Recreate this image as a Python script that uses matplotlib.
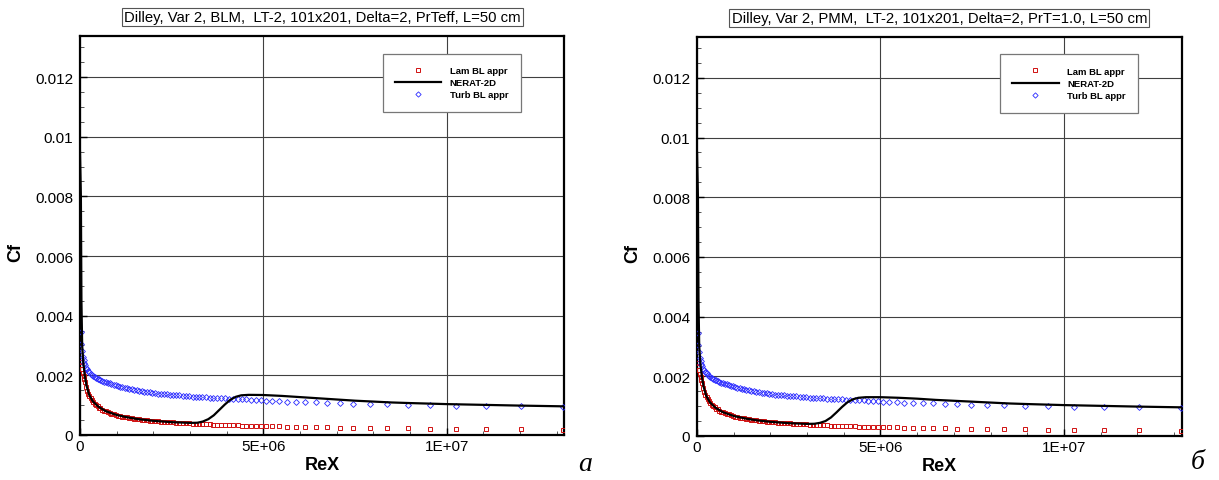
import matplotlib
matplotlib.use("Agg")
import matplotlib.pyplot as plt
from matplotlib.ticker import FixedLocator, MultipleLocator, FixedFormatter
import numpy as np

plt.rcParams['font.family'] = ['Liberation Sans', 'DejaVu Sans']

# ---------------- data (Rex in units of 1e6, Cf in units of 1e-3) ----------------
titles = ["Dilley, Var 2, BLM,  LT-2, 101x201, Delta=2, PrTeff, L=50 cm",
          "Dilley, Var 2, PMM,  LT-2, 101x201, Delta=2, PrT=1.0, L=50 cm"]
panel_letters = ["а", "б"]
series_names = ["Lam BL appr", "NERAT-2D", "Turb BL appr"]

rex_pts = [0.02, 0.04, 0.06, 0.08, 0.10, 0.12, 0.14, 0.17, 0.20, 0.23,
           0.26, 0.29, 0.32, 0.36, 0.40, 0.44, 0.48, 0.52, 0.56, 0.61,
           0.66, 0.71, 0.76, 0.81, 0.86, 0.92, 0.98, 1.04, 1.10, 1.16,
           1.22, 1.28, 1.34, 1.41, 1.48, 1.55, 1.62, 1.69, 1.76, 1.83,
           1.90, 1.97, 2.05, 2.13, 2.21, 2.29, 2.37, 2.45, 2.53, 2.62,
           2.71, 2.80, 2.89, 2.98, 3.07, 3.16, 3.25, 3.34, 3.44, 3.54,
           3.64, 3.74, 3.85, 3.96, 4.07, 4.18, 4.30, 4.42, 4.54, 4.67,
           4.80, 4.94, 5.08, 5.23, 5.44, 5.65, 5.88, 6.15, 6.43, 6.75,
           7.08, 7.46, 7.90, 8.38, 8.95, 9.56, 10.27, 11.08, 12.04, 13.18]

cf_lam = [2.45, 2.35, 2.22, 2.08, 1.98, 1.87, 1.76, 1.60, 1.48, 1.38,
          1.30, 1.23, 1.17, 1.11, 1.05, 1.00, 0.96, 0.92, 0.89, 0.85,
          0.82, 0.79, 0.76, 0.74, 0.72, 0.69, 0.67, 0.65, 0.635, 0.615,
          0.60, 0.59, 0.575, 0.56, 0.55, 0.535, 0.525, 0.515, 0.50, 0.49,
          0.485, 0.475, 0.465, 0.455, 0.45, 0.44, 0.435, 0.425, 0.42, 0.41,
          0.405, 0.40, 0.39, 0.385, 0.38, 0.375, 0.37, 0.365, 0.36, 0.355,
          0.35, 0.345, 0.34, 0.335, 0.33, 0.325, 0.32, 0.317, 0.313, 0.31,
          0.305, 0.30, 0.295, 0.29, 0.285, 0.28, 0.275, 0.27, 0.265, 0.255,
          0.25, 0.245, 0.235, 0.23, 0.22, 0.215, 0.205, 0.20, 0.19, 0.18]

cf_turb = [3.45, 3.05, 2.80, 2.62, 2.50, 2.42, 2.35, 2.26, 2.20, 2.14,
           2.10, 2.05, 2.02, 1.98, 1.95, 1.92, 1.89, 1.86, 1.84, 1.81,
           1.79, 1.77, 1.75, 1.73, 1.71, 1.68, 1.66, 1.64, 1.62, 1.60,
           1.58, 1.565, 1.55, 1.53, 1.51, 1.495, 1.48, 1.465, 1.45, 1.44,
           1.425, 1.415, 1.40, 1.39, 1.38, 1.37, 1.36, 1.35, 1.345, 1.335,
           1.325, 1.315, 1.305, 1.295, 1.285, 1.28, 1.275, 1.27, 1.265, 1.255,
           1.25, 1.245, 1.24, 1.23, 1.22, 1.21, 1.20, 1.195, 1.19, 1.18,
           1.17, 1.16, 1.15, 1.14, 1.13, 1.12, 1.11, 1.10, 1.09, 1.08,
           1.065, 1.05, 1.04, 1.025, 1.01, 1.00, 0.985, 0.97, 0.955, 0.94]

rex_line = [0.0, 0.025, 0.04, 0.06, 0.09, 0.13, 0.18, 0.25, 0.35, 0.5,
            0.7, 1.0, 1.3, 1.6, 2.0, 2.5, 3.0, 3.2, 3.35, 3.5, 3.65, 3.8, 3.95, 4.1,
            4.25, 4.4, 4.6, 5.0, 5.5, 6.0, 6.5, 7.0, 7.5, 8.0, 8.5, 9.0, 10.0, 11.0,
            12.0, 13.2]
cf_line_a = [9.5, 8.0, 4.5, 3.0, 2.45, 2.0, 1.65, 1.35, 1.13, 0.95,
             0.80, 0.67, 0.59, 0.53, 0.475, 0.43, 0.405, 0.41, 0.45, 0.53, 0.66, 0.84, 1.02, 1.18,
             1.28, 1.33, 1.345, 1.34, 1.31, 1.27, 1.23, 1.19, 1.15, 1.12, 1.09, 1.07, 1.035, 1.01,
             0.985, 0.96]
cf_line_b = [9.5, 8.0, 4.5, 3.0, 2.45, 2.0, 1.65, 1.35, 1.13, 0.95,
             0.80, 0.67, 0.59, 0.53, 0.475, 0.43, 0.405, 0.41, 0.44, 0.50, 0.62, 0.79, 0.97, 1.13,
             1.23, 1.28, 1.30, 1.30, 1.28, 1.25, 1.21, 1.18, 1.15, 1.12, 1.09, 1.07, 1.035, 1.01,
             0.985, 0.96]
line_sets = [cf_line_a, cf_line_b]

xtick_vals = [0, 5e6, 1e7]
xtick_labels = ["0", "5E+06", "1E+07"]
ytick_vals = [0, 0.002, 0.004, 0.006, 0.008, 0.01, 0.012]
ytick_labels = ["0", "0.002", "0.004", "0.006", "0.008", "0.01", "0.012"]

# ---------------- figure ----------------
fig = plt.figure(figsize=(12.19, 4.81), dpi=100)
axes_rects = [[0.0656, 0.0936, 0.3973, 0.8285], [0.5718, 0.0915, 0.3976, 0.8290]]
letter_pos = [(0.480, 0.008), (0.983, 0.012)]

xr = np.array(rex_pts) * 1e6
xl = np.array(rex_line) * 1e6

for i in range(2):
    ax = fig.add_axes(axes_rects[i])
    ax.plot(xr, np.array(cf_lam) * 1e-3, linestyle='none', marker='s', markersize=3.0,
            markerfacecolor='none', markeredgecolor='#d01010', markeredgewidth=0.7,
            label=series_names[0], zorder=3)
    ax.plot(xl, np.array(line_sets[i]) * 1e-3, color='black', lw=1.6,
            label=series_names[1], zorder=4)
    ax.plot(xr, np.array(cf_turb) * 1e-3, linestyle='none', marker='D', markersize=3.0,
            markerfacecolor='none', markeredgecolor='#2a2aff', markeredgewidth=0.6,
            label=series_names[2], zorder=3)

    ax.set_xlim(0, 1.321e7)
    ax.set_ylim(0, 0.01336)
    ax.xaxis.set_major_locator(FixedLocator(xtick_vals))
    ax.xaxis.set_major_formatter(FixedFormatter(xtick_labels))
    ax.xaxis.set_minor_locator(MultipleLocator(1e6))
    ax.yaxis.set_major_locator(FixedLocator(ytick_vals))
    ax.yaxis.set_major_formatter(FixedFormatter(ytick_labels))
    ax.yaxis.set_minor_locator(MultipleLocator(0.0005))
    ax.tick_params(which='major', direction='in', length=5, width=1.0, labelsize=11,
                   top=False, right=False)
    ax.tick_params(axis='y', which='major', pad=5)
    ax.tick_params(axis='x', which='major', pad=3)
    ax.tick_params(which='minor', direction='in', length=3, width=0.7, color='#555555',
                   top=False, right=False)
    ax.grid(True, which='major', color='#404040', lw=0.8)
    ax.set_axisbelow(True)
    for sp in ax.spines.values():
        sp.set_linewidth(1.6)

    ax.set_xlabel("ReX", fontsize=13, fontweight='bold', labelpad=2)
    ax.set_ylabel("Cf", fontsize=13, fontweight='bold', labelpad=6)
    ax.yaxis.set_label_coords(-0.115, 0.46)
    ax.set_title(titles[i], fontsize=10.7, pad=11,
                 bbox=dict(facecolor='white', edgecolor='#555555', linewidth=0.8,
                           boxstyle='square,pad=0.15'))

    leg = ax.legend(loc='upper left', bbox_to_anchor=(0.625, 0.957),
                    prop={'weight': 'bold', 'size': 6.8},
                    handlelength=4.9, handletextpad=0.9, labelspacing=0.35,
                    borderpad=1.3, borderaxespad=0.0, fancybox=False, framealpha=1,
                    edgecolor='#777777', markerscale=0.9)
    leg.get_frame().set_linewidth(0.9)

    fig.text(letter_pos[i][0], letter_pos[i][1], panel_letters[i], fontsize=20,
             style='italic', family=['Liberation Serif', 'DejaVu Serif'],
             ha='center', va='bottom')

fig.savefig("out.png", dpi=100)
